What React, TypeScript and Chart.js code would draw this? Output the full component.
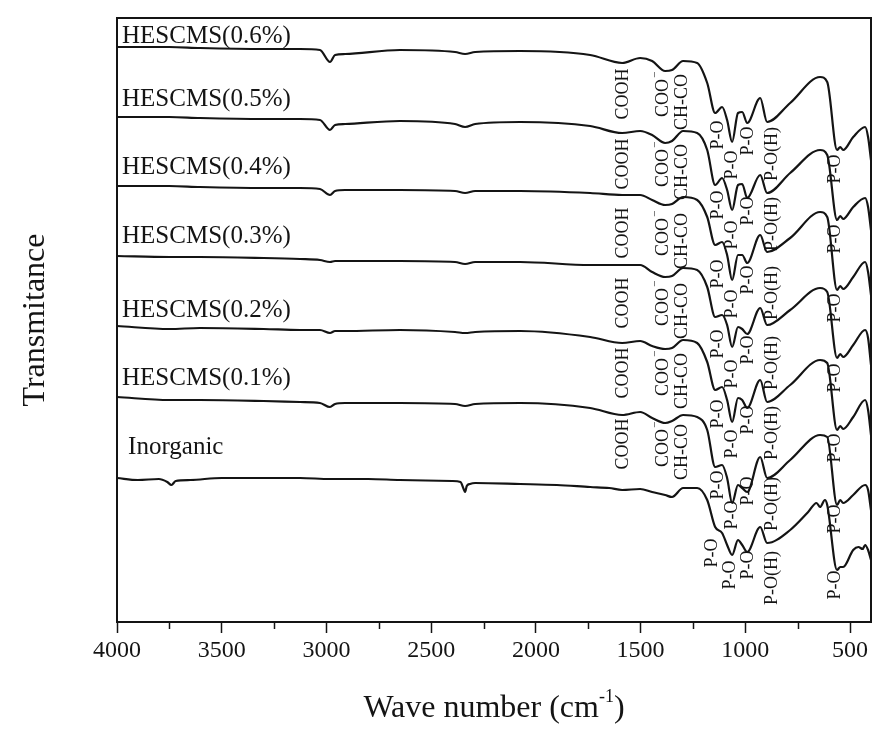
import React, { useEffect, useRef } from 'react';
import { Chart, registerables } from 'chart.js';

Chart.register(...registerables);

// Wavenumber grid (cm-1) shared by the HESCMS spectra
const WAVENUMBERS = [4000, 3750, 3604, 3300, 3126, 3031, 2983, 2959, 2911, 2649, 2386, 2338, 2290, 2075, 1741, 1588, 1502, 1445, 1383, 1350, 1297, 1230, 1182, 1144, 1111, 1087, 1063, 1035, 1015, 991, 929, 896, 786, 643, 609, 562, 547, 533, 485, 428, 414, 400];

// Stacked transmittance (arbitrary units)
const HESCMS_06 = [575, 575, 574, 573, 573, 572, 560, 567, 568, 572, 570, 568, 570, 571, 567, 559, 564, 561, 551, 552, 561, 559, 539, 509, 515, 502, 480, 509, 510, 499, 524, 500, 519, 545, 540, 472, 475, 472, 485, 495, 485, 462];
const HESCMS_05 = [505, 505, 504, 503, 503, 502, 492, 497, 498, 501, 498, 495, 498, 500, 496, 489, 491, 487, 479, 481, 491, 489, 472, 437, 444, 432, 412, 437, 438, 424, 447, 429, 449, 472, 467, 402, 406, 403, 415, 424, 415, 392];
const HESCMS_04 = [436, 436, 435, 434, 434, 433, 427, 431, 432, 432, 431, 429, 431, 431, 429, 427, 427, 422, 417, 418, 425, 422, 405, 377, 380, 367, 342, 367, 367, 359, 387, 370, 384, 410, 405, 332, 336, 333, 345, 360, 350, 327];
const HESCMS_03 = [366, 365, 365, 364, 363, 362, 360, 361, 361, 361, 360, 358, 360, 360, 357, 357, 357, 350, 345, 346, 354, 352, 335, 305, 307, 297, 275, 295, 293, 288, 314, 297, 312, 334, 330, 264, 268, 265, 277, 292, 284, 257];
const HESCMS_02 = [296, 293, 294, 293, 292, 292, 289, 291, 291, 292, 290, 289, 290, 291, 285, 279, 281, 276, 273, 274, 282, 279, 260, 232, 235, 222, 200, 224, 222, 214, 242, 220, 237, 262, 259, 192, 196, 193, 205, 222, 212, 187];
const HESCMS_01 = [225, 222, 222, 221, 220, 219, 215, 218, 219, 219, 218, 216, 218, 219, 214, 207, 210, 204, 199, 201, 207, 205, 192, 155, 157, 144, 119, 137, 134, 130, 165, 144, 162, 187, 185, 117, 122, 119, 127, 137, 132, 112];

const INORGANIC_WN = [4000, 3900, 3800, 3760, 3740, 3720, 3650, 3500, 3300, 3126, 2983, 2800, 2649, 2400, 2360, 2345, 2338, 2330, 2315, 2290, 2075, 1900, 1741, 1650, 1588, 1502, 1445, 1383, 1350, 1297, 1230, 1182, 1144, 1111, 1087, 1063, 1035, 1015, 991, 929, 896, 786, 700, 660, 643, 620, 609, 562, 547, 533, 485, 460, 440, 428, 414, 400];
const INORGANIC = [144, 142, 143, 140, 137, 141, 142, 144, 144, 144, 143, 143, 142, 141, 140, 133, 130, 136, 138, 139, 138, 137, 135, 134, 132, 133, 130, 127, 125, 134, 134, 122, 95, 89, 77, 67, 82, 77, 70, 95, 79, 92, 110, 119, 115, 122, 117, 52, 55, 55, 72, 75, 73, 77, 72, 62];

const SERIES_NAMES = ['HESCMS(0.6%)', 'HESCMS(0.5%)', 'HESCMS(0.4%)', 'HESCMS(0.3%)', 'HESCMS(0.2%)', 'HESCMS(0.1%)', 'Inorganic'];

const X_TICKS = [4000, 3500, 3000, 2500, 2000, 1500, 1000, 500];
const X_MINOR_TICKS = [3750, 3250, 2750, 2250, 1750, 1250, 750];

// Band assignments (text) and where they sit
const BAND_TEXT = ['COOH', 'COO⁻', 'CH-CO', 'P-O', 'P-O', 'P-O', 'P-O(H)', 'P-O'];
const BAND_WN = [1584, 1393, 1302, 1130, 1063, 987, 872, 571];
const BAND_DEPTH = [47, 48, 55, 88, 118, 94, 107, 122];
const INORG_BAND_TEXT = ['P-O', 'P-O', 'P-O', 'P-O(H)', 'P-O'];
const INORG_BAND_WN = [1160, 1070, 987, 872, 571];
const INORG_BAND_DEPTH = [75, 97, 87, 100, 107];

const NAME_WN = [3976, 3976, 3976, 3976, 3976, 3976, 3947];
const NAME_Y = [579, 516, 448, 379, 305, 237, 168];

const FONT = '"Liberation Serif", "Times New Roman", serif';
const INK = '#141414';

function drawRotated(ctx: CanvasRenderingContext2D, text: string, px: number, py: number) {
  ctx.save();
  ctx.translate(px, py);
  ctx.rotate(-Math.PI / 2);
  ctx.font = `18px ${FONT}`;
  ctx.textBaseline = 'middle';
  if (text.endsWith('⁻')) {
    const base = text.slice(0, -1);
    const w = ctx.measureText(base).width;
    ctx.textAlign = 'left';
    ctx.fillText(base, -w / 2 - 3, 0);
    ctx.font = `11px ${FONT}`;
    ctx.fillText('−', w / 2 - 2, -8);
  } else {
    ctx.textAlign = 'center';
    ctx.fillText(text, 0, 0);
  }
  ctx.restore();
}

const decorPlugin = {
  id: 'decor',
  afterDatasetsDraw(chart: any) {
    const { ctx, chartArea, scales } = chart;
    const x = scales.x;
    const y = scales.y;
    ctx.save();
    // frame
    ctx.strokeStyle = INK;
    ctx.lineWidth = 2;
    ctx.strokeRect(chartArea.left, chartArea.top, chartArea.right - chartArea.left, chartArea.bottom - chartArea.top);
    // minor ticks
    ctx.lineWidth = 1.5;
    X_MINOR_TICKS.forEach((v) => {
      const px = Math.round(x.getPixelForValue(v)) + 0.5;
      ctx.beginPath();
      ctx.moveTo(px, chartArea.bottom);
      ctx.lineTo(px, chartArea.bottom + 7);
      ctx.stroke();
    });
    ctx.fillStyle = INK;
    // series names
    ctx.font = `25px ${FONT}`;
    ctx.textAlign = 'left';
    ctx.textBaseline = 'alphabetic';
    SERIES_NAMES.forEach((name, i) => {
      ctx.fillText(name, x.getPixelForValue(NAME_WN[i]), y.getPixelForValue(NAME_Y[i]));
    });
    // band labels
    const organic = [HESCMS_06, HESCMS_05, HESCMS_04, HESCMS_03, HESCMS_02, HESCMS_01];
    organic.forEach((vals) => {
      const base = vals[0];
      BAND_TEXT.forEach((t, k) => {
        drawRotated(ctx, t, x.getPixelForValue(BAND_WN[k]), y.getPixelForValue(base - BAND_DEPTH[k]));
      });
    });
    INORG_BAND_TEXT.forEach((t, k) => {
      drawRotated(ctx, t, x.getPixelForValue(INORG_BAND_WN[k]), y.getPixelForValue(INORGANIC[0] - INORG_BAND_DEPTH[k]));
    });
    // axis titles
    const cx = (chartArea.left + chartArea.right) / 2;
    const parts = [
      { t: 'Wave number (cm', size: 32, dy: 0 },
      { t: '-1', size: 18, dy: -15 },
      { t: ')', size: 32, dy: 0 },
    ];
    let total = 0;
    parts.forEach((p) => {
      ctx.font = `${p.size}px ${FONT}`;
      total += ctx.measureText(p.t).width;
    });
    let cur = cx - total / 2;
    const baseY = 717;
    parts.forEach((p) => {
      ctx.font = `${p.size}px ${FONT}`;
      ctx.fillText(p.t, cur, baseY + p.dy);
      cur += ctx.measureText(p.t).width;
    });
    ctx.save();
    ctx.translate(36, (chartArea.top + chartArea.bottom) / 2);
    ctx.rotate(-Math.PI / 2);
    ctx.font = `32px ${FONT}`;
    ctx.textAlign = 'center';
    ctx.textBaseline = 'middle';
    ctx.fillText('Transmitance', 0, 0);
    ctx.restore();
    ctx.restore();
  },
};

export default function App() {
  const canvasRef = useRef<HTMLCanvasElement | null>(null);

  useEffect(() => {
    document.body.style.margin = '0';
    document.body.style.background = '#ffffff';
    const canvas = canvasRef.current;
    if (!canvas) return;
    let chart: Chart | null = null;
    let cancelled = false;

    const build = () => {
      if (cancelled) return;
      const organic = [HESCMS_06, HESCMS_05, HESCMS_04, HESCMS_03, HESCMS_02, HESCMS_01];
      const datasets: any[] = organic.map((vals, i) => ({
        label: SERIES_NAMES[i],
        data: WAVENUMBERS.map((w, j) => ({ x: w, y: vals[j] })),
      }));
      datasets.push({
        label: SERIES_NAMES[6],
        data: INORGANIC_WN.map((w, j) => ({ x: w, y: INORGANIC[j] })),
      });
      datasets.forEach((d) => {
        d.showLine = true;
        d.borderColor = INK;
        d.backgroundColor = INK;
        d.borderWidth = 2.2;
        d.pointRadius = 0;
        d.cubicInterpolationMode = 'monotone';
        d.fill = false;
      });

      chart = new Chart(canvas, {
        type: 'scatter',
        data: { datasets },
        options: {
          animation: false,
          responsive: false,
          maintainAspectRatio: false,
          events: [],
          layout: { padding: { left: 0, right: 6, top: 18, bottom: 0 } },
          plugins: { legend: { display: false }, tooltip: { enabled: false } },
          scales: {
            x: {
              type: 'linear',
              reverse: true,
              min: 400,
              max: 4000,
              afterBuildTicks: (scale: any) => {
                scale.ticks = X_TICKS.map((v) => ({ value: v }));
              },
              afterFit: (scale: any) => {
                scale.height = 116;
              },
              ticks: {
                autoSkip: false,
                maxRotation: 0,
                minRotation: 0,
                padding: 3,
                color: INK,
                font: { family: FONT, size: 24 },
                callback: (v: any) => String(v),
              },
              grid: {
                display: true,
                drawOnChartArea: false,
                drawTicks: true,
                tickLength: 11,
                tickColor: INK,
                tickWidth: 1.5,
                color: INK,
              },
              border: { display: false },
            },
            y: {
              type: 'linear',
              min: 0,
              max: 604,
              afterFit: (scale: any) => {
                scale.width = 117;
              },
              ticks: { display: false },
              grid: { display: false, drawTicks: false },
              border: { display: false },
            },
          },
        },
        plugins: [decorPlugin],
      });
    };

    const fontsReady = (document as any).fonts && (document as any).fonts.load
      ? Promise.all([
          (document as any).fonts.load(`24px "Liberation Serif"`),
        ]).catch(() => null)
      : Promise.resolve(null);
    fontsReady.then(build);

    return () => {
      cancelled = true;
      if (chart) chart.destroy();
    };
  }, []);

  return (
    <div style={{ width: 877, height: 738, background: '#fff' }}>
      <canvas ref={canvasRef} width={877} height={738} style={{ display: 'block' }} />
    </div>
  );
}
